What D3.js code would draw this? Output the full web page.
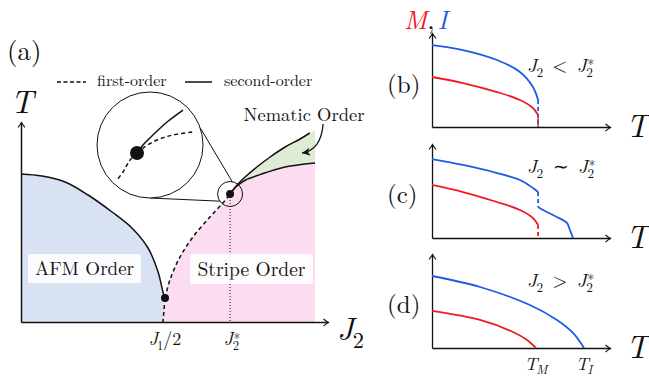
<!DOCTYPE html>
<html><head><meta charset="utf-8">
<script src="https://cdn.jsdelivr.net/npm/d3@7"></script>
<style>
body{margin:0;background:#fff}
</style></head><body>
<svg id="c" width="649" height="382"></svg>
<script>
// ---------------- DATA ----------------
// Panel (a): phase diagram, points as [J2, T]
const afmBoundary = [[0,0.74],[0.073,0.73],[0.153,0.70],[0.233,0.635],[0.316,0.55],[0.385,0.47],[0.441,0.37],[0.476,0.25],[0.493,0.15],[0.5,0.12]];
const afmTail = [[0.5,0.12],[0.493,0]];
const stripeFirstOrder = [[0.5,0.12],[0.517,0.21],[0.552,0.325],[0.597,0.425],[0.656,0.525],[0.701,0.595],[0.726,0.64]];
const nematicUpper = [[0.726,0.64],[0.747,0.68],[0.778,0.725],[0.819,0.775],[0.865,0.825],[0.917,0.875],[0.969,0.915],[1.003,0.945]];
const nematicLower = [[0.726,0.64],[0.75,0.68],[0.78,0.71],[0.83,0.737],[0.91,0.773],[1.021,0.795]];
const J2edge = 1.021;
const nematicEdgeTop = 0.958;
const tricritical = [0.5,0.12];
const criticalPoint = [0.726,0.64];
const tickValuesJ = [0.5, 0.726];
const phaseLabels = ["AFM Order","Stripe Order","Nematic Order"];
const legendLabels = ["first-order","second-order"];
// magnifier (local units of circle radius, y up)
const magCenter = [0.448,0.885];
const magDot = [-0.245,-0.151];
const magSolid = [[-0.245,-0.151],[-0.132,0],[0.057,0.189],[0.321,0.434],[0.623,0.66]];
const magDashedRight = [[-0.245,-0.151],[-0.132,-0.057],[0.132,0.094],[0.434,0.189],[0.811,0.245]];
const magDashedDown = [[-0.245,-0.151],[-0.377,-0.283],[-0.509,-0.509],[-0.623,-0.66]];
const magLinks = [[-19,-80],[90,145]]; // angles (deg) on big / small circle
const nematicArrow = [[1.049,0.99],[1.042,0.86],[0.976,0.845]];

// Panels (b)-(d): [T, value]
const bI = [[0,0.872],[0.174,0.819],[0.365,0.713],[0.494,0.585],[0.567,0.426],[0.596,0.287]];
const bM = [[0,0.532],[0.174,0.468],[0.365,0.372],[0.494,0.287],[0.567,0.202],[0.596,0.128]];
const cIhigh = [[0,0.84],[0.174,0.777],[0.365,0.691],[0.494,0.617],[0.567,0.532],[0.596,0.489]];
const cIlow = [[0.596,0.33],[0.624,0.298],[0.702,0.223],[0.758,0.16],[0.775,0.085],[0.792,0]];
const cM = [[0,0.564],[0.174,0.489],[0.365,0.383],[0.494,0.298],[0.567,0.213],[0.596,0.138]];
const dI = [[0,0.766],[0.27,0.649],[0.55,0.457],[0.702,0.298],[0.792,0.16],[0.854,0]];
const dM = [[0,0.394],[0.27,0.298],[0.455,0.17],[0.534,0.085],[0.584,0]];
const panelNames = ["(b)","(c)","(d)"];
const relations = ["<","\u223C",">"];

// ---------------- DRAW ----------------
const FONT = "Latin Modern Roman";
const RED = "#ee1c25", BLUE = "#1d5ae8";
const svg = d3.select("#c");
const defs = svg.append("defs");
defs.append("marker").attr("id","ah").attr("viewBox","-8 -5 10 10").attr("refX",0).attr("refY",0)
  .attr("markerWidth",10).attr("markerHeight",10).attr("markerUnits","userSpaceOnUse").attr("orient","auto")
  .append("path").attr("d","M-5,-3.5 Q-2,-1 0,0 Q-2,1 -5,3.5").attr("fill","none").attr("stroke","#111").attr("stroke-width",1.1);
defs.append("marker").attr("id","ah2").attr("viewBox","-10 -5 12 10").attr("refX",0).attr("refY",0)
  .attr("markerWidth",12).attr("markerHeight",10).attr("markerUnits","userSpaceOnUse").attr("orient","auto")
  .append("path").attr("d","M-8,-4 L0,0 L-8,4 L-6,0 Z").attr("fill","#111");

function txt(g, x, y, size, s, anchor){
  return g.append("text").attr("x",x).attr("y",y).attr("font-size",size).attr("font-family",FONT)
    .attr("text-anchor",anchor||"start").attr("fill","#111").text(s);
}
function math(g, x, y, size, parts, anchor){
  const t = g.append("text").attr("x",x).attr("y",y).attr("font-size",size).attr("font-family",FONT)
    .attr("text-anchor",anchor||"start").attr("fill","#111");
  parts.forEach(p=>{
    const s = t.append("tspan").attr("font-family",FONT).text(p.t);
    if(p.i) s.attr("font-style","italic");
    if(p.fs) s.attr("font-size",p.fs);
    if(p.dx!=null) s.attr("dx",p.dx);
    if(p.dy!=null) s.attr("dy",p.dy);
    if(p.fill) s.attr("fill",p.fill);
  });
  return t;
}
// J_2^* : subscript 2 with a star stacked above it
function J2star(s){ return [{t:"J",i:1},{t:"2",fs:s*0.7,dy:s*0.25,dx:-s*0.03},{t:"*",fs:s*0.75,dx:-s*0.3,dy:-s*0.36}]; }
function J2(s){ return [{t:"J",i:1},{t:"2",fs:s*0.7,dy:s*0.25,dx:-s*0.03}]; }

// ---- panel (a)
const xA = d3.scaleLinear().domain([0,1.066]).range([21,328]);
const yA = d3.scaleLinear().domain([0,1]).range([322,122]);
const gA = svg.append("g");
const lineA = d3.line().x(d=>xA(d[0])).y(d=>yA(d[1])).curve(d3.curveCatmullRom.alpha(0.5));
const lineLin = d3.line().x(d=>xA(d[0])).y(d=>yA(d[1]));

// fills
gA.append("path").attr("d", lineA(afmBoundary)+"L"+xA(afmTail[1][0])+","+yA(0)+"L"+xA(0)+","+yA(0)+"Z").attr("fill","#d9e2f2");
gA.append("path").attr("d", "M"+xA(afmTail[1][0])+","+yA(0)+lineA(stripeFirstOrder).replace(/^M/,"L")+lineA(nematicLower).replace(/^M/,"L")+"L"+xA(J2edge)+","+yA(0)+"Z").attr("fill","#fcdcf0");
gA.append("path").attr("d", lineA(nematicUpper)+"L"+xA(J2edge)+","+yA(nematicEdgeTop)+"L"+xA(J2edge)+","+yA(nematicLower[nematicLower.length-1][1])+lineA(nematicLower.slice().reverse()).replace(/^M/,"L")+"Z").attr("fill","#deecd6");

// boundaries
gA.append("path").attr("d",lineA(afmBoundary)).attr("fill","none").attr("stroke","#111").attr("stroke-width",1.5);
gA.append("path").attr("d",lineLin(afmTail)).attr("fill","none").attr("stroke","#111").attr("stroke-width",1.5).attr("stroke-dasharray","4,3");
gA.append("path").attr("d",lineA(stripeFirstOrder)).attr("fill","none").attr("stroke","#111").attr("stroke-width",1.5).attr("stroke-dasharray","4,3");
gA.append("path").attr("d",lineA(nematicUpper)).attr("fill","none").attr("stroke","#111").attr("stroke-width",1.5);
gA.append("path").attr("d",lineA(nematicLower)).attr("fill","none").attr("stroke","#111").attr("stroke-width",1.5);
// dotted J2* line
gA.append("line").attr("x1",xA(criticalPoint[0])).attr("x2",xA(criticalPoint[0])).attr("y1",yA(criticalPoint[1])).attr("y2",yA(0))
  .attr("stroke","#111").attr("stroke-width",1).attr("stroke-dasharray","1,2");

// axes
const axX = gA.append("g").attr("transform","translate(0,"+yA(0)+")").call(d3.axisBottom(xA).tickValues([]).tickSizeOuter(0));
axX.select(".domain").attr("stroke","#111").attr("stroke-width",1.5).attr("marker-end","url(#ah)");
const axY = gA.append("g").attr("transform","translate("+xA(0)+",0)").call(d3.axisLeft(yA).tickValues([]).tickSizeOuter(0));
axY.select(".domain").attr("stroke","#111").attr("stroke-width",1.5).attr("marker-end","url(#ah)");

// dots
gA.append("circle").attr("cx",xA(tricritical[0])).attr("cy",yA(tricritical[1])).attr("r",4).attr("fill","#111");
gA.append("circle").attr("cx",xA(criticalPoint[0])).attr("cy",yA(criticalPoint[1])).attr("r",4).attr("fill","#111");

// magnifier
const R1 = 53, R2 = 12.5;
const c1 = [xA(magCenter[0]), yA(magCenter[1])], c2 = [xA(criticalPoint[0]), yA(criticalPoint[1])];
magLinks.forEach(([a1,a2])=>{
  const r1 = a1*Math.PI/180, r2 = a2*Math.PI/180;
  gA.append("line").attr("x1",c1[0]+R1*Math.cos(r1)).attr("y1",c1[1]+R1*Math.sin(r1))
    .attr("x2",c2[0]+R2*Math.cos(r2)).attr("y2",c2[1]+R2*Math.sin(r2)).attr("stroke","#111").attr("stroke-width",1);
});
gA.append("circle").attr("cx",c2[0]).attr("cy",c2[1]).attr("r",R2).attr("fill","none").attr("stroke","#111").attr("stroke-width",1);
gA.append("circle").attr("cx",c1[0]).attr("cy",c1[1]).attr("r",R1).attr("fill","#fff").attr("stroke","#111").attr("stroke-width",1);
const mx = d3.scaleLinear().domain([-1,1]).range([c1[0]-R1,c1[0]+R1]);
const my = d3.scaleLinear().domain([-1,1]).range([c1[1]+R1,c1[1]-R1]);
const lineM = d3.line().x(d=>mx(d[0])).y(d=>my(d[1])).curve(d3.curveCatmullRom.alpha(0.5));
gA.append("path").attr("d",lineM(magSolid)).attr("fill","none").attr("stroke","#111").attr("stroke-width",1.5);
gA.append("path").attr("d",lineM(magDashedRight)).attr("fill","none").attr("stroke","#111").attr("stroke-width",1.5).attr("stroke-dasharray","4,3");
gA.append("path").attr("d",lineM(magDashedDown)).attr("fill","none").attr("stroke","#111").attr("stroke-width",1.5).attr("stroke-dasharray","4,3");
gA.append("circle").attr("cx",mx(magDot[0])).attr("cy",my(magDot[1])).attr("r",7).attr("fill","#111");

// nematic arrow
gA.append("path").attr("d","M"+xA(nematicArrow[0][0])+","+yA(nematicArrow[0][1])+"Q"+xA(nematicArrow[1][0])+","+yA(nematicArrow[1][1])+" "+xA(nematicArrow[2][0])+","+yA(nematicArrow[2][1]))
  .attr("fill","none").attr("stroke","#111").attr("stroke-width",1.3).attr("marker-end","url(#ah2)");

// labels in (a)
function boxLabel(s, x, y, w, h, size){
  gA.append("rect").attr("x",x).attr("y",y).attr("width",w).attr("height",h).attr("rx",2).attr("fill","#fff").attr("fill-opacity",0.9);
  txt(gA, x+w/2, y+h-8, size, s, "middle");
}
boxLabel(phaseLabels[0], 28, 254, 113, 29, 19);
boxLabel(phaseLabels[1], 190, 254, 123, 30, 19.5);
txt(gA, 304, 121, 18.5, phaseLabels[2], "middle");

// legend
gA.append("line").attr("x1",57).attr("x2",86).attr("y1",82).attr("y2",82).attr("stroke","#111").attr("stroke-width",1.5).attr("stroke-dasharray","4,2.5");
txt(gA, 97, 86, 16, legendLabels[0]);
gA.append("line").attr("x1",185).attr("x2",212).attr("y1",82).attr("y2",82).attr("stroke","#111").attr("stroke-width",1.5);
txt(gA, 224, 86, 16, legendLabels[1]);

txt(gA, 7, 60, 27, "(a)");
math(gA, 22, 113, 32, [{t:"T",i:1}], "middle");
math(gA, 337, 340, 32, J2(32));
math(gA, xA(tickValuesJ[0]), 345, 18, [{t:"J",i:1},{t:"1",fs:12.5,dy:4.5,dx:-1},{t:"/2",dy:-4.5}], "middle");
math(gA, xA(tickValuesJ[1])+2, 345, 18, J2star(18), "middle");

// ---- panels (b)-(d)
const xR = d3.scaleLinear().domain([0,1]).range([432,610]);
const panelsInfo = [
  {axisY:127, series:[{d:bI,c:BLUE},{d:bM,c:RED}], drops:[{x:0.596,y0:0.287,y1:0,c:BLUE,off:0},{x:0.596,y0:0.128,y1:0,c:RED,off:3.5}], labelY:85, relY:72},
  {axisY:238, series:[{d:cIhigh,c:BLUE},{d:cIlow,c:BLUE},{d:cM,c:RED}], drops:[{x:0.596,y0:0.489,y1:0.33,c:BLUE,off:0},{x:0.596,y0:0.138,y1:0,c:RED,off:0}], labelY:195, relY:173},
  {axisY:348, series:[{d:dI,c:BLUE},{d:dM,c:RED}], drops:[], labelY:305, relY:287}
];
panelsInfo.forEach((p,i)=>{
  const g = svg.append("g");
  const yR = d3.scaleLinear().domain([0,1]).range([p.axisY, p.axisY-94]);
  const ln = d3.line().x(d=>xR(d[0])).y(d=>yR(d[1])).curve(d3.curveCatmullRom.alpha(0.5));
  p.drops.forEach(dr=>{
    g.append("line").attr("x1",xR(dr.x)).attr("x2",xR(dr.x)).attr("y1",yR(dr.y0)).attr("y2",yR(dr.y1))
      .attr("stroke",dr.c).attr("stroke-width",1.8).attr("stroke-dasharray","4,3").attr("stroke-dashoffset",dr.off);
  });
  const ax = g.append("g").attr("transform","translate(0,"+p.axisY+")").call(d3.axisBottom(xR).tickValues([]).tickSizeOuter(0));
  ax.select(".domain").attr("stroke","#111").attr("stroke-width",1.3).attr("marker-end","url(#ah)");
  const ay = g.append("g").attr("transform","translate(432,0)").call(d3.axisLeft(yR).tickValues([]).tickSizeOuter(0));
  ay.select(".domain").attr("stroke","#111").attr("stroke-width",1.3).attr("marker-end","url(#ah)");
  p.series.forEach(s=>{
    g.append("path").attr("d",ln(s.d)).attr("fill","none").attr("stroke",s.c).attr("stroke-width",1.8);
  });
  txt(g, 387, p.labelY+8, 25, panelNames[i]);
  math(g, 626, p.axisY+10, 32, [{t:"T",i:1}]);
  math(g, 527, p.relY, 19, J2(19).concat([{t:"\u2002"+relations[i]+"\u2002",dy:-19*0.25}], J2star(19)));
});
math(svg, 404, 29, 26, [{t:"M",i:1,fill:RED},{t:",",fill:"#111"},{t:"I",i:1,fill:BLUE,dx:3}]);
math(svg, xR(dM[dM.length-1][0]), 370, 18, [{t:"T",i:1},{t:"M",i:1,fs:12.5,dy:4,dx:-1}], "middle");
math(svg, xR(dI[dI.length-1][0]), 370, 18, [{t:"T",i:1},{t:"I",i:1,fs:12.5,dy:4,dx:-1}], "middle");
</script>
</body></html>
